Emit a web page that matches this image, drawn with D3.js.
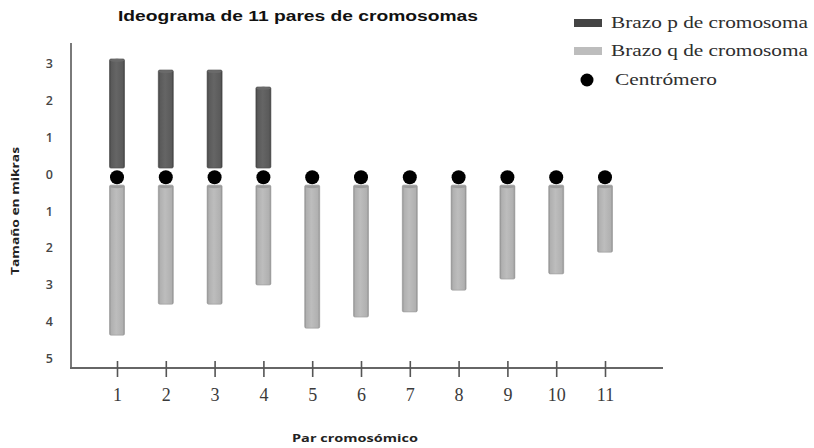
<!DOCTYPE html>
<html>
<head>
<meta charset="utf-8">
<script src="https://cdn.jsdelivr.net/npm/d3@7"></script>
<style>
  html, body { margin: 0; padding: 0; background: #fff; }
  svg { display: block; }
</style>
</head>
<body>
<svg id="chart" width="814" height="448"></svg>
<script>
// ---- data ----
const pairs = ["1", "2", "3", "4", "5", "6", "7", "8", "9", "10", "11"];
const pArm = [3.11, 2.81, 2.81, 2.35, 0, 0, 0, 0, 0, 0, 0];          // p arm length (microns, upward)
const qArm = [4.38, 3.54, 3.54, 3.02, 4.19, 3.89, 3.75, 3.16, 2.86, 2.72, 2.13]; // q arm length (downward)
const yTickValues = [3, 2, 1, 0, -1, -2, -3, -4, -5];
const legendLabels = ["Brazo p de cromosoma", "Brazo q de cromosoma", "Centrómero"];
const titleText = "Ideograma de 11 pares de cromosomas";
const xTitle = "Par cromosómico";
const yTitle = "Tamaño en mikras";

// ---- layout ----
const svg = d3.select("#chart");
const x = d3.scalePoint().domain(pairs).range([117, 605]);
const y = d3.scaleLinear().domain([3, -5]).range([63, 358]);
const barW = 15;
const pGap = 0.15, qGap = 0.31, cenOff = -0.1;

const defs = svg.append("defs");
function cyl(id, edge, mid, light) {
  const g = defs.append("linearGradient").attr("id", id).attr("x1", "0").attr("x2", "1").attr("y1", "0").attr("y2", "0");
  [[0, edge], [0.12, mid], [0.45, light], [0.88, mid], [1, edge]].forEach(([o, c]) =>
    g.append("stop").attr("offset", o).attr("stop-color", c));
}
cyl("gp", "#404040", "#5a5a5a", "#656565");
cyl("gq", "#8e8e8e", "#b0b0b0", "#bdbdbd");

// title
svg.append("text").attr("x", 298).attr("y", 21).attr("text-anchor", "middle")
  .attr("font-family", "Liberation Sans, Arial, sans-serif").attr("font-weight", "bold")
  .attr("font-size", 14.5).attr("fill", "#111")
  .attr("textLength", 360).attr("lengthAdjust", "spacingAndGlyphs").text(titleText);

// axes lines
svg.append("line").attr("x1", 71).attr("x2", 71).attr("y1", 43).attr("y2", 369)
  .attr("stroke", "#7a7a7a").attr("stroke-width", 2);
svg.append("line").attr("x1", 70).attr("x2", 663).attr("y1", 368).attr("y2", 368)
  .attr("stroke", "#666").attr("stroke-width", 2);

// y axis labels
const yAxis = d3.axisLeft(y).tickValues(yTickValues).tickSize(0).tickPadding(18)
  .tickFormat(d => Math.abs(d));
const yg = svg.append("g").attr("transform", "translate(71,0)").call(yAxis);
yg.select(".domain").remove();
yg.selectAll("text").attr("font-family", "Open Sans, sans-serif").attr("font-weight", 600)
  .attr("font-size", 12.5).attr("fill", "#454545").attr("dy", "0.36em");

// x axis ticks & labels
const xAxis = d3.axisBottom(x).tickSize(16).tickPadding(0);
const xg = svg.append("g").attr("transform", "translate(0,361)").call(xAxis);
xg.select(".domain").remove();
xg.selectAll(".tick line").attr("stroke", "#555").attr("stroke-width", 1.6);
xg.selectAll("text").attr("y", 40).attr("dy", 0)
  .attr("font-family", "Liberation Serif, Times New Roman, serif")
  .attr("font-size", 18).attr("fill", "#3a3a3a");

// axis titles
svg.append("text").attr("x", 355).attr("y", 442).attr("text-anchor", "middle")
  .attr("font-family", "Open Sans, sans-serif").attr("font-weight", "bold")
  .attr("font-size", 11).attr("fill", "#222")
  .attr("textLength", 126).attr("lengthAdjust", "spacingAndGlyphs").text(xTitle);
svg.append("text").attr("transform", "translate(19,211) rotate(-90)").attr("text-anchor", "middle")
  .attr("font-family", "Open Sans, sans-serif").attr("font-weight", "bold")
  .attr("font-size", 11).attr("fill", "#222")
  .attr("textLength", 128).attr("lengthAdjust", "spacingAndGlyphs").text(yTitle);

// bars
const rows = pairs.map((p, i) => ({ p, pv: pArm[i], qv: qArm[i] }));
const gb = svg.append("g");
// p arms
rows.filter(d => d.pv > 0).forEach(d => {
  const cx = x(d.p), top = y(d.pv), bot = y(pGap);
  gb.append("rect").attr("x", cx - barW / 2).attr("y", top).attr("width", barW).attr("height", bot - top)
    .attr("rx", 1.5).attr("fill", "url(#gp)").attr("stroke", "#4a4a4a").attr("stroke-width", 0.6);
  gb.append("ellipse").attr("cx", cx).attr("cy", top + 1.5).attr("rx", barW / 2 - 0.5).attr("ry", 1.6)
    .attr("fill", "#6a6a6a");
});
// q arms
rows.forEach(d => {
  const cx = x(d.p), top = y(-qGap), bot = y(-d.qv);
  gb.append("rect").attr("x", cx - barW / 2).attr("y", top).attr("width", barW).attr("height", bot - top)
    .attr("rx", 1.5).attr("fill", "url(#gq)").attr("stroke", "#9a9a9a").attr("stroke-width", 0.6);
  gb.append("ellipse").attr("cx", cx).attr("cy", top + 1.8).attr("rx", barW / 2 - 0.3).attr("ry", 1.4)
    .attr("fill", "#9c9c9c");
});
// centromeres
gb.selectAll("circle.cen").data(rows).join("circle").attr("class", "cen")
  .attr("cx", d => x(d.p)).attr("cy", y(cenOff)).attr("r", 7).attr("fill", "#000");

// legend
const lg = svg.append("g");
const legendY = [23, 51, 80];
lg.append("rect").attr("x", 574).attr("y", legendY[0] - 4).attr("width", 28).attr("height", 8).attr("fill", "#444");
lg.append("rect").attr("x", 574).attr("y", legendY[1] - 4).attr("width", 28).attr("height", 8).attr("fill", "#bdbdbd");
lg.append("circle").attr("cx", 587).attr("cy", legendY[2]).attr("r", 6.5).attr("fill", "#000");
const lx = [611, 611, 615], lw = [197, 197, 102];
legendLabels.forEach((t, i) => {
  lg.append("text").attr("x", lx[i]).attr("y", legendY[i] + 5)
    .attr("font-family", "Liberation Serif, Times New Roman, serif").attr("font-size", 17)
    .attr("fill", "#2e2e2e").attr("textLength", lw[i]).attr("lengthAdjust", "spacingAndGlyphs").text(t);
});
</script>
</body>
</html>
